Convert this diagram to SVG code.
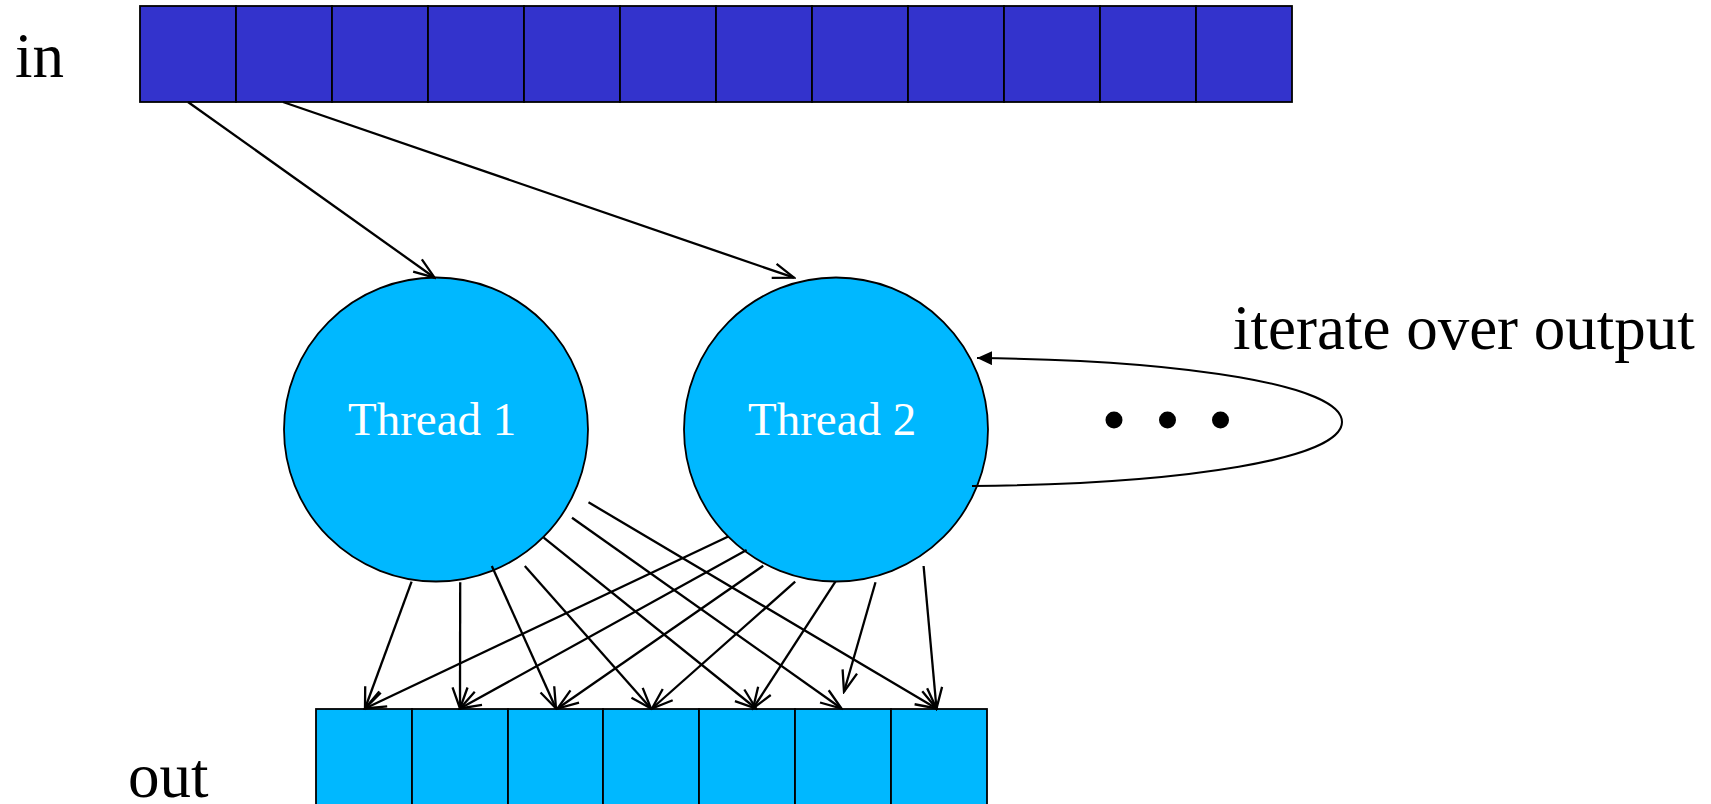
<svg xmlns="http://www.w3.org/2000/svg" width="1711" height="804" viewBox="0 0 1711 804">
<style>
.lbl{font-family:"Liberation Serif","Times New Roman",serif;fill:#000}
.big{font-size:63px}
.tt{font-family:"Liberation Serif","Times New Roman",serif;font-size:47px;fill:#fff}
.cellIn{fill:#3333CC;stroke:#000;stroke-width:1.8}
.cellOut{fill:#00B8FF;stroke:#000;stroke-width:1.8}
.thr{fill:#00B8FF;stroke:#000;stroke-width:1.8}
.c{stroke:#000;stroke-width:2.3;fill:none;marker-end:url(#open)}
</style>
<defs>
<marker id="open" markerUnits="userSpaceOnUse" markerWidth="24" markerHeight="20" viewBox="0 0 24 20" refX="22" refY="10" orient="auto">
<path d="M1,2.5 L22,10 L1,17.5" fill="none" stroke="#000" stroke-width="2.3"/>
</marker>
<marker id="solid" markerUnits="userSpaceOnUse" markerWidth="16" markerHeight="14" viewBox="0 0 16 14" refX="15" refY="7" orient="auto">
<path d="M0,0 L15,7 L0,14 z" fill="#000"/>
</marker>
</defs>
<rect width="1711" height="804" fill="#fff"/>

<g id="in-array">
<text class="lbl big" x="15" y="77">in</text>
<rect class="cellIn" x="140" y="6" width="96" height="96"/>
<rect class="cellIn" x="236" y="6" width="96" height="96"/>
<rect class="cellIn" x="332" y="6" width="96" height="96"/>
<rect class="cellIn" x="428" y="6" width="96" height="96"/>
<rect class="cellIn" x="524" y="6" width="96" height="96"/>
<rect class="cellIn" x="620" y="6" width="96" height="96"/>
<rect class="cellIn" x="716" y="6" width="96" height="96"/>
<rect class="cellIn" x="812" y="6" width="96" height="96"/>
<rect class="cellIn" x="908" y="6" width="96" height="96"/>
<rect class="cellIn" x="1004" y="6" width="96" height="96"/>
<rect class="cellIn" x="1100" y="6" width="96" height="96"/>
<rect class="cellIn" x="1196" y="6" width="96" height="96"/>
</g>

<g id="out-array">
<text class="lbl big" x="128" y="797">out</text>
<rect class="cellOut" x="316" y="709" width="96" height="120"/>
<rect class="cellOut" x="412" y="709" width="96" height="120"/>
<rect class="cellOut" x="508" y="709" width="95" height="120"/>
<rect class="cellOut" x="603" y="709" width="96" height="120"/>
<rect class="cellOut" x="699" y="709" width="96" height="120"/>
<rect class="cellOut" x="795" y="709" width="96" height="120"/>
<rect class="cellOut" x="891" y="709" width="96" height="120"/>
</g>

<g id="thread1">
<circle class="thr" cx="436" cy="429.5" r="152"/>
<text class="tt" x="348" y="435">Thread 1</text>
</g>

<g id="thread2">
<circle class="thr" cx="836" cy="429.5" r="152"/>
<text class="tt" x="748" y="435">Thread 2</text>
</g>

<g id="ellipsis">
<circle cx="1114" cy="420" r="8.5" fill="#000"/>
<circle cx="1167.5" cy="420" r="8.5" fill="#000"/>
<circle cx="1220.5" cy="420" r="8.5" fill="#000"/>
</g>

<g id="loop-label">
<text class="lbl big" x="1233" y="349">iterate over output</text>
</g>

<g id="connectors">
<line class="c" x1="188" y1="102" x2="434.6" y2="277.7"/>
<line class="c" x1="283" y1="102" x2="794" y2="277.7"/>

<line class="c" x1="411.6" y1="581.7" x2="365" y2="708.5"/>
<line class="c" x1="460.2" y1="582.3" x2="460" y2="708.5"/>
<line class="c" x1="491.8" y1="566" x2="556" y2="708.5"/>
<line class="c" x1="524.8" y1="566" x2="651" y2="708.5"/>
<line class="c" x1="543.7" y1="537.7" x2="756" y2="708.5"/>
<line class="c" x1="572" y1="517.7" x2="841.5" y2="708.5"/>
<line class="c" x1="588.5" y1="502.3" x2="936.5" y2="708.5"/>

<line class="c" x1="727.8" y1="536.7" x2="365" y2="708.5"/>
<line class="c" x1="746.6" y1="550" x2="460" y2="708.5"/>
<line class="c" x1="763.2" y1="565.7" x2="557.5" y2="708.5"/>
<line class="c" x1="795.2" y1="581.7" x2="652" y2="708.5"/>
<line class="c" x1="835.4" y1="581.7" x2="753" y2="708.5"/>
<line class="c" x1="875.5" y1="582.3" x2="844" y2="691.7"/>
<line class="c" x1="923.6" y1="566" x2="936.5" y2="708.5"/>

<path d="M972,486 C1190,484 1342,458 1342,422 C1342,386 1190,360 977,358" fill="none" stroke="#000" stroke-width="2" marker-end="url(#solid)"/>
</g>
</svg>
